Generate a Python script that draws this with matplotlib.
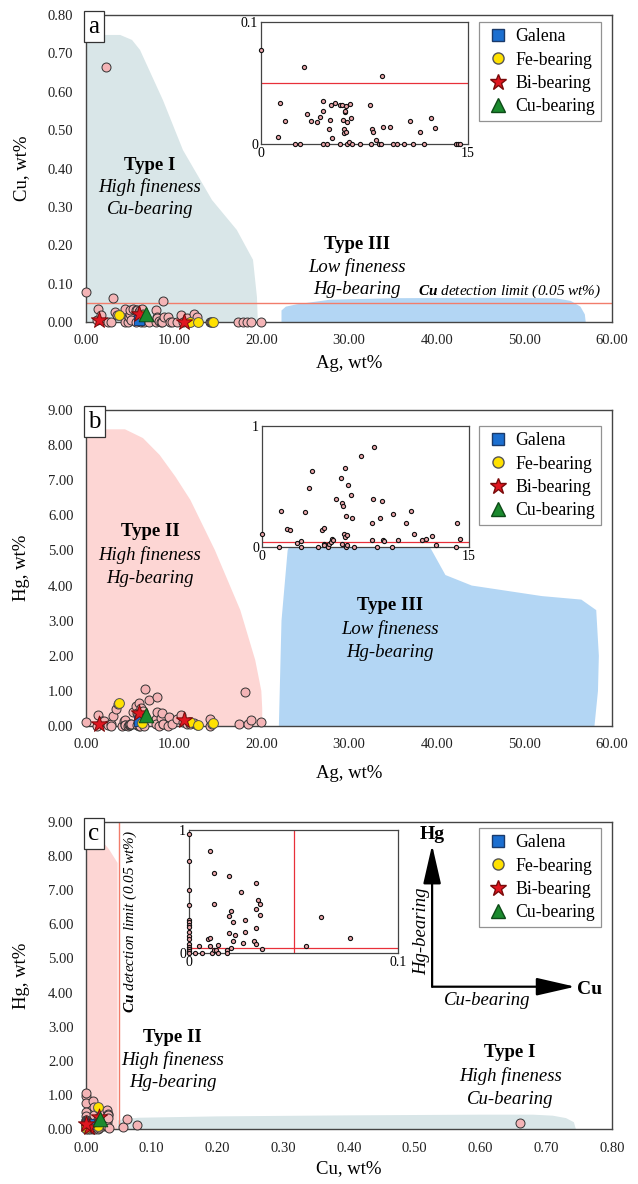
import matplotlib
matplotlib.use("Agg")
import matplotlib.pyplot as plt
from matplotlib.lines import Line2D
from matplotlib.ticker import FormatStrFormatter

plt.rcParams['font.family'] = ['Liberation Serif', 'DejaVu Serif']
plt.rcParams['mathtext.fontset'] = 'custom'
plt.rcParams['mathtext.rm'] = 'Liberation Serif'
plt.rcParams['mathtext.it'] = 'Liberation Serif:italic'
plt.rcParams['mathtext.bf'] = 'Liberation Serif:bold'
plt.rcParams['mathtext.bfit'] = 'Liberation Serif:italic:bold'

# --- native gold analyses (wt%) ------------------------------------------
# (a) Ag vs Cu
ag_a = [0.0, 1.23, 1.35, 1.76, 2.48, 2.82, 3.11, 3.35, 3.59, 4.03, 4.29, 4.46, 4.46,
        4.46, 4.75, 4.90, 4.99, 5.04, 5.11, 5.35, 5.72, 5.72, 5.86, 5.91, 6.00, 6.05,
        6.08, 6.08, 6.13, 6.15, 6.20, 6.25, 6.39, 6.44, 6.51, 6.63, 7.16, 7.93, 7.98,
        8.05, 8.13, 8.32, 8.56, 8.68, 8.80, 8.85, 9.38, 9.53, 9.86, 10.39, 10.80, 11.02,
        11.55, 11.84, 12.35, 12.61, 14.11, 14.25, 14.40]
cu_a = [0.077, 0.006, 0.034, 0.019, 0, 0, 0.063, 0.025, 0.019, 0.018, 0.022, 0.027, 0.035,
        0, 0, 0.012, 0.020, 0.032, 0.005, 0.034, 0.032, 0, 0.032, 0.020, 0.012, 0.009,
        0.026, 0.027, 0.010, 0.031, 0.018, 0, 0.002, 0.033, 0.021, 0, 0, 0.032, 0,
        0.012, 0.010, 0.003, 0, 0, 0.056, 0.014, 0.014, 0, 0, 0, 0.019, 0,
        0.010, 0, 0.021, 0.013, 0, 0, 0]
ag_a_out = [2.28, 17.3, 17.9, 18.4, 18.8, 20.0]
cu_a_out = [0.664, 0, 0, 0, 0, 0]

# (b) Ag vs Hg
ag_b = [0.0, 1.25, 1.40, 1.81, 2.05, 2.53, 2.84, 2.84, 3.13, 3.37, 3.61, 4.07, 4.33,
        4.48, 4.48, 4.48, 4.77, 4.89, 4.98, 5.06, 5.13, 5.35, 5.71, 5.78, 5.83, 5.90,
        5.97, 6.02, 6.04, 6.09, 6.09, 6.14, 6.16, 6.26, 6.45, 6.52, 6.67, 7.17, 7.94,
        7.97, 8.07, 8.14, 8.35, 8.55, 8.69, 8.79, 8.83, 9.39, 9.51, 9.85, 10.40, 10.81,
        11.03, 11.56, 11.85, 12.35, 12.61, 14.09, 14.13, 14.37]
hg_b = [0.11, 0, 0.30, 0.15, 0.14, 0.036, 0.05, 0, 0.29, 0.49, 0.63, 0, 0.14,
        0.16, 0.027, 0.016, 0, 0.025, 0.038, 0.07, 0.06, 0.40, 0.57, 0.025, 0.36, 0.34,
        0.11, 0.65, 0.08, 0.26, 0, 0.10, 0.014, 0.51, 0.43, 0.24, 0, 0.75, 0.20,
        0.055, 0.40, 0.83, 0, 0.24, 0.38, 0.055, 0.047, 0, 0.27, 0.055, 0.20, 0.30,
        0.11, 0.055, 0.066, 0.088, 0.019, 0, 0.20, 0.066]
ag_b_out = [6.7, 17.4, 18.1, 18.5, 18.8, 20.0]
hg_b_out = [1.04, 0.05, 0.96, 0.05, 0.17, 0.10]

# (c) Cu vs Hg
cu_c = [0, 0, 0, 0, 0, 0, 0, 0, 0, 0, 0, 0, 0, 0, 0, 0,
        0.003, 0.006, 0.005, 0.009, 0.010, 0.010, 0.010, 0.011, 0.012, 0.013,
        0.012, 0.012, 0.014, 0.014, 0.018, 0.018, 0.019, 0.019, 0.020, 0.020,
        0.021, 0.021, 0.019, 0.022, 0.025, 0.026, 0.027, 0.027, 0.031, 0.032,
        0.032, 0.032, 0.032, 0.033, 0.034, 0.034, 0.035, 0.056, 0.063, 0.077]
hg_c = [0.97, 0.75, 0.51, 0.39, 0.27, 0.25, 0.23, 0.21, 0.17, 0.14, 0.11, 0.07, 0.05, 0.035, 0.016, 0,
        0, 0, 0.06, 0.11, 0.12, 0.83, 0.06, 0, 0.027, 0.027,
        0.65, 0.40, 0, 0.068, 0.027, 0, 0.63, 0.30, 0.34, 0.04,
        0.25, 0.10, 0.16, 0.15, 0.50, 0.084, 0.27, 0.17, 0.10, 0.57,
        0.36, 0.20, 0.076, 0.43, 0.40, 0.31, 0.033, 0.054, 0.29, 0.12]
cu_c_out = [0.0, 0.66]
hg_c_out = [1.05, 0.17]

# inclusion-associated grains
galena_ag, galena_cu, galena_hg = [6.1], [0.004], [0.15]
fe_ag = [3.8, 6.35, 11.9, 12.8, 14.5]
fe_cu = [0.018, 0.018, 0.0, 0.0, 0.0]
fe_hg = [0.65, 0.08, 0.10, 0.03, 0.08]
bi_ag = [1.5, 6.1, 11.2]
bi_cu = [0.005, 0.020, 0.0]
bi_hg = [0.05, 0.36, 0.16]
cub_ag, cub_cu, cub_hg = [6.9], [0.021], [0.30]

CU_LIMIT = 0.05
HG_LIMIT = 0.04

# compositional fields (outline vertices)
type1_a = ([0, 0, 3.9, 5.25, 6.16, 8.78, 11.06, 14.37, 17.2, 19.05, 19.5, 19.6],
           [0, 0.748, 0.748, 0.735, 0.709, 0.578, 0.448, 0.318, 0.240, 0.162, 0.065, 0])
type3_a = ([22.3, 22.3, 22.8, 24.0, 27.8, 35.0, 45.0, 53.5, 55.3, 56.4, 56.9, 57.0],
           [0, 0.030, 0.040, 0.046, 0.058, 0.062, 0.063, 0.062, 0.055, 0.040, 0.020, 0])
type2_b = ([0, 0, 4.45, 6.5, 8.4, 10.2, 11.9, 14.7, 17.6, 19.3, 20.0, 20.1, 20.1],
           [0, 8.45, 8.45, 8.2, 7.72, 7.1, 6.44, 5.01, 3.30, 1.88, 1.0, 0.5, 0])
type3_b = ([22.0, 22.3, 23.0, 24.5, 30.0, 37.0, 39.0, 41.0, 44.0, 52.0, 56.5, 58.2, 58.5, 58.4, 58.0],
           [0, 3.0, 5.0, 5.9, 6.1, 6.0, 5.2, 4.3, 4.0, 3.7, 3.6, 3.3, 2.0, 1.0, 0])
type2_c = ([0, 0, 0.022, 0.035, 0.048, 0.048],
           [0, 8.5, 8.5, 8.2, 7.8, 0])
type1_c = ([0.048, 0.048, 0.06, 0.08, 0.2, 0.4, 0.6, 0.68, 0.71, 0.73, 0.742, 0.745],
           [0, 0.25, 0.30, 0.33, 0.37, 0.40, 0.42, 0.42, 0.39, 0.32, 0.20, 0])

TEAL = '#d9e6e8'
PINK = '#fdd6d4'
BLUE = '#b3d6f4'
PT = '#f4b4b6'
LIM_MAIN = '#f27d6b'
LIM_INSET = '#e8303a'
SPINE = '#444444'

W, H = 638, 1184
fig = plt.figure(figsize=(W / 100, H / 100), dpi=100)


def px_rect(x0, y0, x1, y1):
    return [x0 / W, 1 - y1 / H, (x1 - x0) / W, (y1 - y0) / H]


def style_main(ax, xlim, ylim, xstep, ystep):
    ax.set_xlim(*xlim)
    ax.set_ylim(*ylim)
    ax.set_xticks([xlim[0] + i * xstep for i in range(int(round((xlim[1] - xlim[0]) / xstep)) + 1)])
    ax.set_yticks([ylim[0] + i * ystep for i in range(int(round((ylim[1] - ylim[0]) / ystep)) + 1)])
    ax.xaxis.set_major_formatter(FormatStrFormatter('%.2f'))
    ax.yaxis.set_major_formatter(FormatStrFormatter('%.2f'))
    ax.tick_params(length=0, labelsize=10.5, pad=9, colors='#222222')
    for s in ax.spines.values():
        s.set_color(SPINE)
        s.set_linewidth(1.0)


def style_inset(ax, xlim, ylim, xlabels, ylabels):
    ax.set_xlim(*xlim)
    ax.set_ylim(*ylim)
    ax.set_xticks(list(xlim))
    ax.set_yticks(list(ylim))
    ax.set_xticklabels(xlabels)
    ax.set_yticklabels(ylabels)
    ax.tick_params(length=0, labelsize=10, pad=2)
    for s in ax.spines.values():
        s.set_color(SPINE)
        s.set_linewidth(0.9)


def panel_tag(ax, letter):
    ax.text(0.004, 0.997, letter, transform=ax.transAxes, ha='left', va='top',
            fontsize=18, zorder=6,
            bbox=dict(boxstyle='square,pad=0.18', facecolor='white', edgecolor='#333333', lw=0.9))


def specials(ax, xs, ys):
    kw = dict(zorder=5, clip_on=False, linewidths=0.7)
    ax.scatter(xs[0], ys[0], marker='s', s=55, c='#1c6fd0', edgecolors='#1a3a6a', **kw)
    ax.scatter(xs[1], ys[1], marker='o', s=50, c='#ffe100', edgecolors='#555555', **kw)
    ax.scatter(xs[2], ys[2], marker='*', s=150, c='#e01620', edgecolors='#7a0a0a', **kw)
    ax.scatter(xs[3], ys[3], marker='^', s=110, c='#1b8a2e', edgecolors='#0d4a17', **kw)


def add_legend(ax, top):
    handles = [
        Line2D([], [], ls='none', marker='s', markersize=8, markerfacecolor='#1c6fd0',
               markeredgecolor='#1a3a6a', label='Galena'),
        Line2D([], [], ls='none', marker='o', markersize=8, markerfacecolor='#ffe100',
               markeredgecolor='#555555', label='Fe-bearing'),
        Line2D([], [], ls='none', marker='*', markersize=12, markerfacecolor='#e01620',
               markeredgecolor='#7a0a0a', label='Bi-bearing'),
        Line2D([], [], ls='none', marker='^', markersize=10, markerfacecolor='#1b8a2e',
               markeredgecolor='#0d4a17', label='Cu-bearing'),
    ]
    leg = ax.legend(handles=handles, loc='upper left', bbox_to_anchor=(0.747, top),
                    borderaxespad=0, fontsize=12.8, frameon=True, fancybox=False,
                    handletextpad=0.3, handlelength=1.4, labelspacing=0.35,
                    borderpad=0.35)
    leg.get_frame().set_edgecolor('#777777')
    leg.get_frame().set_linewidth(0.9)
    leg.set_zorder(7)


def field_text(ax, x, y, lines, dy):
    ax.text(x, y, lines[0], ha='center', va='center', fontsize=13.5, fontweight='bold', zorder=3)
    for k, t in enumerate(lines[1:], start=1):
        ax.text(x, y - k * dy, t, ha='center', va='center', fontsize=13.5, style='italic', zorder=3)


pt_main = dict(s=42, c=PT, edgecolors='#333333', linewidths=0.7, zorder=4, clip_on=False)
pt_inset = dict(s=9, c='#e8a4a8', edgecolors='#111111', linewidths=0.8, zorder=4, clip_on=False)

# ---------------- (a) Ag vs Cu ----------------
ax = fig.add_axes(px_rect(86, 15, 612, 322))
style_main(ax, (0, 60), (0, 0.8), 10, 0.1)
ax.fill(*type1_a, color=TEAL, lw=0, zorder=0)
ax.fill(*type3_a, color=BLUE, lw=0, zorder=0)
ax.axhline(CU_LIMIT, color=LIM_MAIN, lw=1.0, zorder=1)
ax.scatter(ag_a + ag_a_out, cu_a + cu_a_out, **pt_main)
specials(ax, [galena_ag, fe_ag, bi_ag, cub_ag], [galena_cu, fe_cu, bi_cu, cub_cu])
field_text(ax, 7.3, 0.409, ['Type I', 'High fineness', 'Cu-bearing'], 0.058)
field_text(ax, 30.9, 0.201, ['Type III', 'Low fineness', 'Hg-bearing'], 0.058)
ax.text(58.8, 0.070, r'$\mathbfit{Cu}$ detection limit (0.05 wt%)', ha='right', va='baseline',
        fontsize=11, style='italic', zorder=3)
ax.set_xlabel('Ag, wt%', fontsize=13.5)
ax.set_ylabel('Cu, wt%', fontsize=13.5)
ax.xaxis.set_label_coords(0.5, -0.107)
ax.yaxis.set_label_coords(-0.106, 0.5)
panel_tag(ax, 'a')
add_legend(ax, 0.977)

ins = fig.add_axes(px_rect(261, 22, 468, 144))
style_inset(ins, (0, 15), (0, 0.1), ['0', '15'], ['0', '0.1'])
ins.axhline(CU_LIMIT, color=LIM_INSET, lw=0.9, zorder=1)
ins.scatter(ag_a, cu_a, **pt_inset)

# ---------------- (b) Ag vs Hg ----------------
ax = fig.add_axes(px_rect(86, 410, 612, 726))
style_main(ax, (0, 60), (0, 9), 10, 1)
ax.fill(*type2_b, color=PINK, lw=0, zorder=0)
ax.fill(*type3_b, color=BLUE, lw=0, zorder=0)
ax.scatter(ag_b + ag_b_out, hg_b + hg_b_out, **pt_main)
specials(ax, [galena_ag, fe_ag, bi_ag, cub_ag], [galena_hg, fe_hg, bi_hg, cub_hg])
field_text(ax, 7.3, 5.53, ['Type II', 'High fineness', 'Hg-bearing'], 0.66)
field_text(ax, 34.7, 3.42, ['Type III', 'Low fineness', 'Hg-bearing'], 0.66)
ax.set_xlabel('Ag, wt%', fontsize=13.5)
ax.set_ylabel('Hg, wt%', fontsize=13.5)
ax.xaxis.set_label_coords(0.5, -0.123)
ax.yaxis.set_label_coords(-0.106, 0.5)
panel_tag(ax, 'b')
add_legend(ax, 0.949)

ins = fig.add_axes(px_rect(262, 426, 469, 547))
style_inset(ins, (0, 15), (0, 1), ['0', '15'], ['0', '1'])
ins.axhline(HG_LIMIT, color=LIM_INSET, lw=0.9, zorder=1)
ins.scatter(ag_b, hg_b, **pt_inset)

# ---------------- (c) Cu vs Hg ----------------
ax = fig.add_axes(px_rect(86, 822, 612, 1129))
style_main(ax, (0, 0.8), (0, 9), 0.1, 1)
ax.fill(*type2_c, color=PINK, lw=0, zorder=0)
ax.fill(*type1_c, color=TEAL, lw=0, zorder=0)
ax.axvline(CU_LIMIT, color=LIM_MAIN, lw=1.0, zorder=1)
ax.scatter(cu_c + cu_c_out, hg_c + hg_c_out, **pt_main)
specials(ax, [galena_cu, fe_cu, bi_cu, cub_cu], [galena_hg, fe_hg, bi_hg, cub_hg])
field_text(ax, 0.132, 2.67, ['Type II', 'High fineness', 'Hg-bearing'], 0.66)
field_text(ax, 0.645, 2.23, ['Type I', 'High fineness', 'Cu-bearing'], 0.68)
ax.text(0.068, 8.77, r'$\mathbfit{Cu}$ detection limit (0.05 wt%)', ha='center', va='top',
        rotation=90, fontsize=11, style='italic', zorder=3)

# Cu / Hg enrichment arrows
ox, oy = 0.658, 0.4635
for tip in [(ox, 0.925), (0.930, oy)]:
    ax.annotate('', xy=tip, xytext=(ox, oy), xycoords='axes fraction',
                arrowprops=dict(arrowstyle='-|>,head_length=2.4,head_width=0.55',
                                mutation_scale=10, color='black', lw=1.6,
                                shrinkA=0, shrinkB=0), zorder=3)
ax.text(ox, 0.958, 'Hg', transform=ax.transAxes, ha='center', va='center',
        fontsize=14, fontweight='bold')
ax.text(0.958, 0.456, 'Cu', transform=ax.transAxes, ha='center', va='center',
        fontsize=14, fontweight='bold')
ax.text(0.638, 0.643, 'Hg-bearing', transform=ax.transAxes, ha='center', va='center',
        rotation=90, fontsize=13.5, style='italic')
ax.text(0.762, 0.420, 'Cu-bearing', transform=ax.transAxes, ha='center', va='center',
        fontsize=13.5, style='italic')

ax.set_xlabel('Cu, wt%', fontsize=13.5)
ax.set_ylabel('Hg, wt%', fontsize=13.5)
ax.xaxis.set_label_coords(0.5, -0.101)
ax.yaxis.set_label_coords(-0.106, 0.5)
panel_tag(ax, 'c')
add_legend(ax, 0.980)

ins = fig.add_axes(px_rect(189, 830, 398, 953))
style_inset(ins, (0, 0.1), (0, 1), ['0', '0.1'], ['0', '1'])
ins.axvline(CU_LIMIT, color=LIM_INSET, lw=0.9, zorder=1)
ins.axhline(HG_LIMIT, color=LIM_INSET, lw=0.9, zorder=1)
ins.scatter(cu_c, hg_c, **pt_inset)

fig.savefig('out.png', dpi=100)
